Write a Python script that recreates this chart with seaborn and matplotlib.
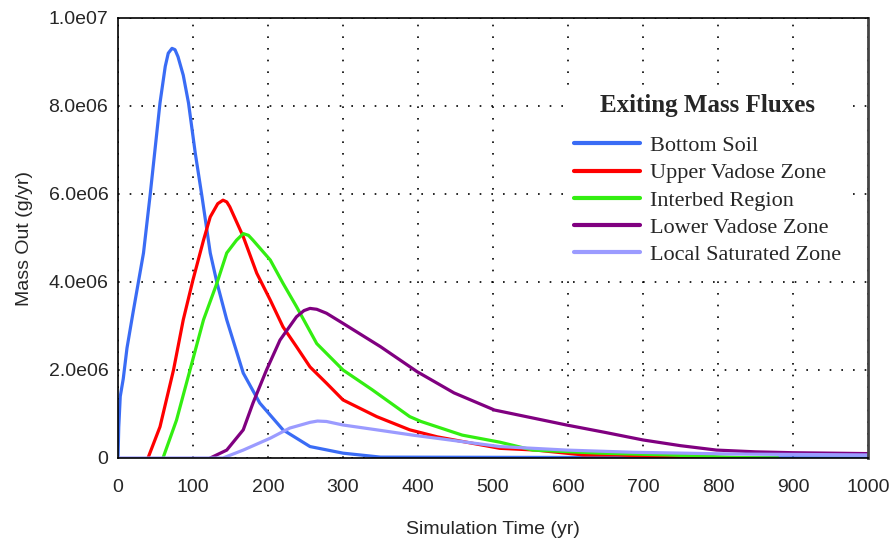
import pandas as pd
import matplotlib
matplotlib.use("Agg")
import matplotlib.pyplot as plt
import matplotlib.ticker as mticker
import seaborn as sns

# values (time in yr, mass flux in 1e6 g/yr)
bottom_soil_t = [0, 1, 3, 7, 12, 20, 34, 43, 56, 63, 67, 72, 76, 80, 87, 94, 103, 112, 123, 132, 145, 167, 189, 220, 256, 300, 350, 1000]
bottom_soil_y = [0, 0.7, 1.4, 1.8, 2.5, 3.3, 4.66, 6.0, 8.07, 8.9, 9.2, 9.31, 9.28, 9.12, 8.7, 8.07, 6.93, 5.94, 4.66, 3.98, 3.14, 1.93, 1.25, 0.64, 0.26, 0.11, 0.02, 0]

upper_vadose_t = [40, 56, 74, 87, 100, 114, 123, 133, 140, 145, 149, 167, 185, 203, 220, 238, 256, 278, 300, 345, 389, 426, 509, 557, 620, 665, 760, 830]
upper_vadose_y = [0, 0.71, 2.0, 3.14, 4.05, 4.95, 5.48, 5.78, 5.86, 5.82, 5.71, 5.03, 4.2, 3.59, 2.98, 2.53, 2.07, 1.7, 1.32, 0.94, 0.64, 0.48, 0.22, 0.18, 0.07, 0.07, 0.01, 0]

interbed_t = [60, 78, 96, 114, 132, 145, 158, 167, 174, 180, 203, 220, 238, 265, 300, 339, 389, 404, 459, 509, 553, 643, 732, 830, 880]
interbed_y = [0, 0.86, 2.0, 3.14, 3.98, 4.66, 4.95, 5.1, 5.06, 4.95, 4.5, 3.97, 3.44, 2.6, 2.0, 1.55, 0.94, 0.83, 0.52, 0.36, 0.18, 0.11, 0.07, 0.01, 0]

lower_vadose_t = [123, 145, 167, 180, 198, 216, 238, 248, 256, 265, 278, 300, 350, 399, 448, 502, 550, 598, 650, 700, 750, 798, 850, 900, 950, 1000]
lower_vadose_y = [0, 0.18, 0.64, 1.25, 2.0, 2.68, 3.21, 3.35, 3.4, 3.38, 3.29, 3.06, 2.53, 1.96, 1.48, 1.09, 0.92, 0.75, 0.58, 0.41, 0.28, 0.18, 0.14, 0.12, 0.11, 0.1]

local_sat_t = [0, 140, 167, 203, 229, 256, 266, 278, 300, 345, 393, 509, 598, 687, 820, 1000]
local_sat_y = [0, 0, 0.18, 0.45, 0.68, 0.81, 0.84, 0.83, 0.75, 0.64, 0.52, 0.26, 0.18, 0.13, 0.09, 0.07]

names = ["Bottom Soil", "Upper Vadose Zone", "Interbed Region", "Lower Vadose Zone", "Local Saturated Zone"]
colors = ["#3a6cf5", "#ff0000", "#33ee11", "#800080", "#9b9bff"]

series = [(bottom_soil_t, bottom_soil_y), (upper_vadose_t, upper_vadose_y),
          (interbed_t, interbed_y), (lower_vadose_t, lower_vadose_y),
          (local_sat_t, local_sat_y)]
frames = []
for name, (t, y) in zip(names, series):
    frames.append(pd.DataFrame({"time": t, "mass": [v * 1e6 for v in y], "zone": name}))
df = pd.concat(frames, ignore_index=True)

sns.set_style("white")
plt.rcParams["font.family"] = ["Liberation Sans", "DejaVu Sans"]

fig = plt.figure(figsize=(8.94, 5.38), dpi=100)
ax = fig.add_axes([118 / 894, 80 / 538, 750 / 894, 440 / 538])

sns.lineplot(data=df, x="time", y="mass", hue="zone", hue_order=names,
             palette=colors, sort=False, estimator=None, linewidth=2.3, ax=ax)

ax.set_xlim(0, 1000)
ax.set_ylim(0, 1e7)
ax.xaxis.set_major_locator(mticker.MultipleLocator(100))
ax.xaxis.set_minor_locator(mticker.MultipleLocator(50))
ax.yaxis.set_major_locator(mticker.MultipleLocator(2e6))
ax.yaxis.set_minor_locator(mticker.MultipleLocator(1e6))


def fmt(v, pos):
    if v == 0:
        return "0"
    return ("%.1e" % v).replace("+", "")


ax.yaxis.set_major_formatter(mticker.FuncFormatter(fmt))
ax.tick_params(axis="both", which="both", direction="inout", length=8, width=1.2,
               color="black", labelsize=14, pad=3)
ax.tick_params(axis="x", which="major", pad=11)
ax.tick_params(axis="both", which="minor", length=6)
ax.grid(True, which="major", color="black", linestyle=(0, (1, 6)), linewidth=1.2)

for side in ["left", "bottom", "top"]:
    ax.spines[side].set_color("black")
    ax.spines[side].set_linewidth(1.2)
ax.spines["right"].set_color("#444444")
ax.spines["right"].set_linewidth(2)

ax.set_xlabel("Simulation Time (yr)", fontsize=14, labelpad=18)
ax.set_ylabel("Mass Out (g/yr)", fontsize=14, labelpad=11)

handles, labels = ax.get_legend_handles_labels()
leg = ax.legend(handles, labels, title="Exiting Mass Fluxes", loc="upper left",
                bbox_to_anchor=(556 / 894, 1 - 76 / 538), bbox_transform=fig.transFigure,
                frameon=True, framealpha=1, edgecolor="white", fancybox=False,
                prop={"family": "Liberation Serif", "size": 16},
                handlelength=3.0, handletextpad=0.45, labelspacing=0.3, borderpad=0.3)
leg.get_title().set_fontfamily("Liberation Serif")
leg.get_title().set_fontweight("bold")
leg.get_title().set_fontsize(18)
leg._legend_box.sep = 13.5  # extra gap under the title
for line in leg.get_lines():
    line.set_linewidth(3)

fig.savefig("out.png", dpi=100)
